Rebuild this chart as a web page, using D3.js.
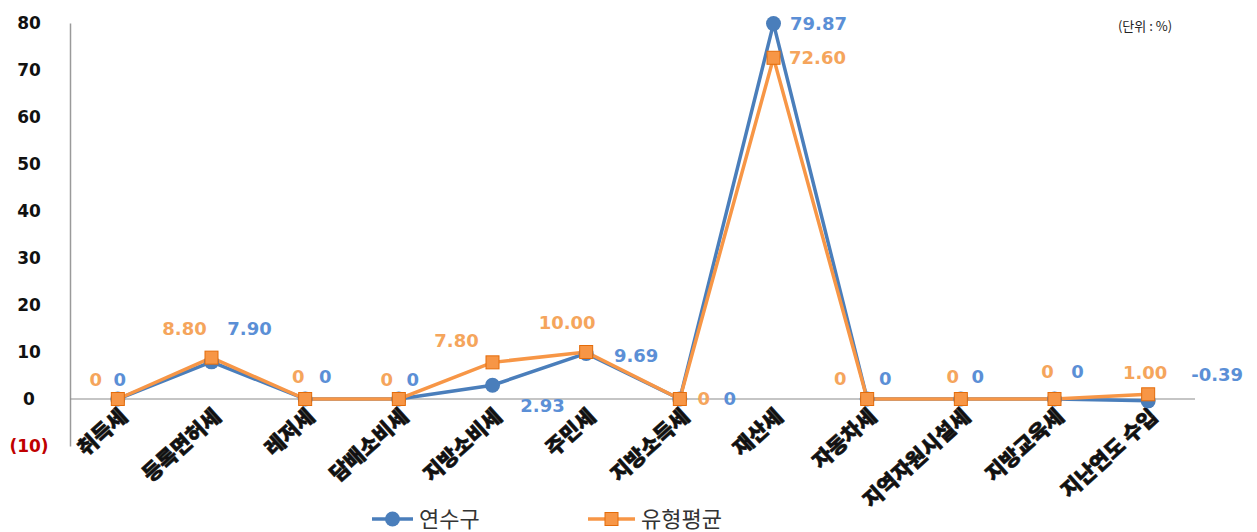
<!DOCTYPE html>
<html>
<head>
<meta charset="utf-8">
<script src="https://cdn.jsdelivr.net/npm/d3@7"></script>
<style>
  body { margin: 0; background: #fff; }
  svg text { font-family: "DejaVu Sans", "Noto Sans CJK KR", sans-serif; }
</style>
</head>
<body>
<div id="chart"></div>
<script>
// data
const categories = ["취득세", "등록면허세", "레저세", "담배소비세", "지방소비세", "주민세",
  "지방소득세", "재산세", "자동차세", "지역자원시설세", "지방교육세", "지난연도 수입"];
const yeonsu = [0, 7.90, 0, 0, 2.93, 9.69, 0, 79.87, 0, 0, 0, -0.39];
const typeAvg = [0, 8.80, 0, 0, 7.80, 10.00, 0, 72.60, 0, 0, 0, 1.00];
const yTicks = [-10, 0, 10, 20, 30, 40, 50, 60, 70, 80];
const seriesNames = ["연수구", "유형평균"];

// label placement (pixel offsets from the point)
const blueOffsets = [[2, -19], [38, -33], [20, -22], [14, -19], [50, 20], [50, 2], [50, 0], [45, 0], [18, -20], [17, -22], [23, -27], [69, -26]];
const orangeOffsets = [[-22, -19], [-27, -29], [-7, -22], [-12, -19], [-36, -22], [-19, -29], [24, 0], [44, 0], [-27, -20], [-8, -22], [-7, -27], [-3, -22]];

const W = 1257, H = 532;
const margin = {left: 71, right: 62};
const blue = "#4a7ebb", orange = "#f79646";

const svg = d3.select("#chart").append("svg")
    .attr("width", W).attr("height", H);

const x = d3.scaleBand().domain(categories).range([margin.left, W - margin.right]);
const y = d3.scaleLinear().domain([-10, 80]).range([446, 23]);
const cx = d => x(d) + x.bandwidth() / 2;

// y axis
const yAxis = svg.append("g")
    .attr("transform", "translate(70,0)")
    .call(d3.axisLeft(y).tickValues(yTicks).tickSize(0).tickPadding(0)
      .tickFormat(d => d < 0 ? "(" + Math.abs(d) + ")" : d));
yAxis.select(".domain").attr("stroke", "#9a9a9a").attr("stroke-width", 1.5);
yAxis.selectAll("text")
    .attr("x", -41)
    .attr("text-anchor", "middle")
    .style("font-size", "17px").style("font-weight", "bold")
    .style("font-family", "DejaVu Sans")
    .attr("fill", d => d < 0 ? "#c00000" : "#111");

// zero line
svg.append("line")
    .attr("x1", 70).attr("x2", W - margin.right)
    .attr("y1", y(0)).attr("y2", y(0))
    .attr("stroke", "#8c8c8c").attr("stroke-width", 1.2);

// category labels
svg.append("g").selectAll("text")
  .data(categories).enter().append("text")
    .attr("transform", d => "translate(" + (cx(d) + 6) + "," + (y(0) + 14) + ") rotate(-42)")
    .attr("text-anchor", "end")
    .attr("dy", "0.35em")
    .style("font-family", "Noto Sans CJK KR")
    .style("font-size", "21px").style("font-weight", "900")
    .attr("fill", "#111")
    .attr("stroke", "#111").attr("stroke-width", 0.6)
    .text(d => d);

const line = d3.line().x((d, i) => cx(categories[i])).y(d => y(d));

// lines
svg.append("path").datum(yeonsu)
    .attr("fill", "none").attr("stroke", blue).attr("stroke-width", 3.5)
    .attr("d", line);
svg.append("path").datum(typeAvg)
    .attr("fill", "none").attr("stroke", orange).attr("stroke-width", 3.5)
    .attr("d", line);

// markers
svg.append("g").selectAll("circle")
  .data(yeonsu).enter().append("circle")
    .attr("cx", (d, i) => cx(categories[i]))
    .attr("cy", d => y(d))
    .attr("r", 7.5)
    .attr("fill", blue);
svg.append("g").selectAll("rect")
  .data(typeAvg).enter().append("rect")
    .attr("x", (d, i) => cx(categories[i]) - 6.5)
    .attr("y", d => y(d) - 6.5)
    .attr("width", 13).attr("height", 13)
    .attr("fill", orange).attr("stroke", "#e46c0a").attr("stroke-width", 1);

const fmt = v => v === 0 ? "0" : v.toFixed(2);

// data labels
svg.append("g").selectAll("text")
  .data(typeAvg).enter().append("text")
    .attr("x", (d, i) => cx(categories[i]) + orangeOffsets[i][0])
    .attr("y", (d, i) => y(d) + orangeOffsets[i][1])
    .attr("text-anchor", "middle").attr("dy", "0.35em")
    .style("font-size", "18px").style("font-weight", "bold")
    .attr("fill", "#f5a55c")
    .text(fmt);
svg.append("g").selectAll("text")
  .data(yeonsu).enter().append("text")
    .attr("x", (d, i) => cx(categories[i]) + blueOffsets[i][0])
    .attr("y", (d, i) => y(d) + blueOffsets[i][1])
    .attr("text-anchor", "middle").attr("dy", "0.35em")
    .style("font-size", "18px").style("font-weight", "bold")
    .attr("fill", "#5b8fd6")
    .text(fmt);

// unit note
svg.append("text")
    .attr("x", 1145).attr("y", 31)
    .attr("text-anchor", "middle")
    .style("font-family", "Noto Sans CJK KR")
    .style("font-size", "13px")
    .attr("fill", "#222")
    .text("(단위 : %)");

// legend
const legend = svg.append("g").attr("transform", "translate(0,519)");
const legItems = [
  {name: seriesNames[0], color: blue, x0: 372, len: 41},
  {name: seriesNames[1], color: orange, x0: 588, len: 47}
];
legItems.forEach((it, i) => {
  legend.append("line")
      .attr("x1", it.x0).attr("x2", it.x0 + it.len)
      .attr("stroke", it.color).attr("stroke-width", 3.5);
  if (i === 0) {
    legend.append("circle").attr("cx", it.x0 + it.len / 2).attr("r", 7.5).attr("fill", blue);
  } else {
    legend.append("rect").attr("x", it.x0 + it.len / 2 - 6.5).attr("y", -6.5)
        .attr("width", 13).attr("height", 13)
        .attr("fill", orange).attr("stroke", "#e46c0a");
  }
  legend.append("text")
      .attr("x", it.x0 + it.len + 6).attr("y", 8)
      .style("font-family", "Noto Sans CJK KR")
      .style("font-size", "22px")
      .attr("fill", "#333")
      .text(it.name);
});
</script>
</body>
</html>
